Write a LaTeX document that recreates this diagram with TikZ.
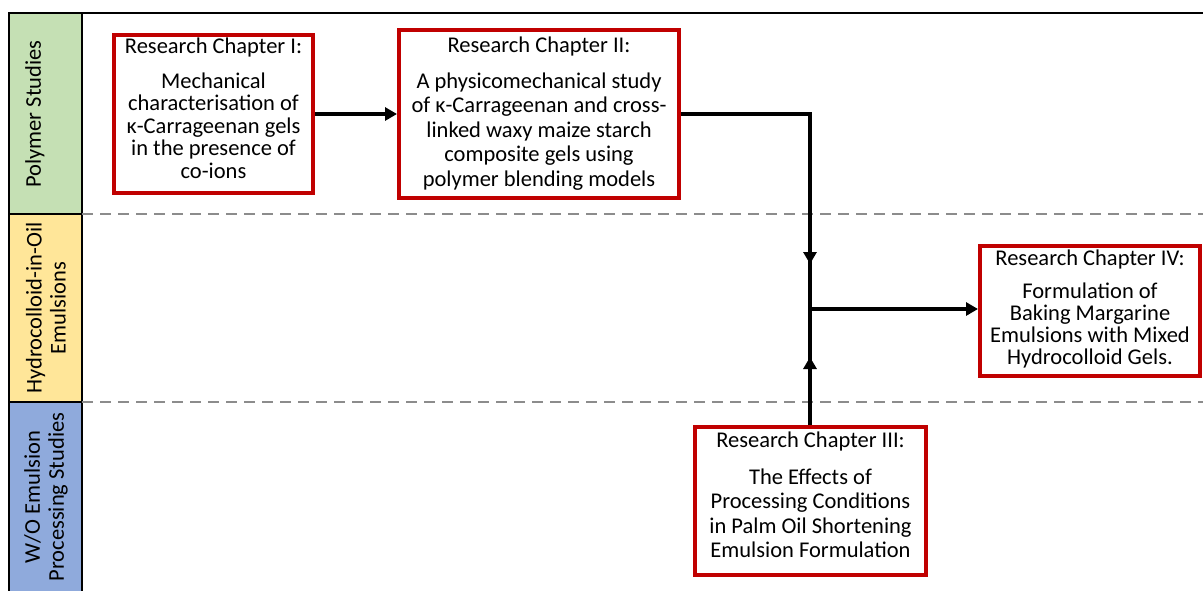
\documentclass[tikz,border=0pt]{standalone}
\usepackage{fontspec}
\setmainfont{Carlito}
\usetikzlibrary{arrows.meta,calc}
\definecolor{chapred}{HTML}{C00000}
\definecolor{polygreen}{HTML}{C5E0B4}
\definecolor{hocyellow}{HTML}{FFE699}
\definecolor{woblue}{HTML}{8FAADC}
\definecolor{dashgray}{HTML}{8C8C8C}
\newcommand{\chaptext}[5]{\parbox[c][#2][t]{#1}{\centering\fontsize{22.5}{#4}\selectfont\rule{0pt}{#3}#5\par}}
\begin{document}
\begin{tikzpicture}[x=1pt,y=-1pt,
  chap/.style={draw=chapred,line width=4pt,fill=white,inner sep=0pt,anchor=north west},
  lanebox/.style={draw=black,line width=2pt},
  lanelabel/.style={rotate=90,align=center,inner sep=0pt,font=\fontsize{22.5}{24}\selectfont},
  flow/.style={line width=3.5pt,-{Triangle[length=12pt,width=13pt]}},
  flowline/.style={line width=3.5pt},
  sep/.style={draw=dashgray,line width=1.5pt,dash pattern=on 11pt off 7pt}]
\useasboundingbox (0,0) rectangle (1203,590);
% lanes
\filldraw[lanebox,fill=polygreen] (9,13) rectangle (82,214);
\filldraw[lanebox,fill=hocyellow] (9,214) rectangle (82,402);
\filldraw[lanebox,fill=woblue] (9,402) rectangle (82,600);
\draw[line width=2.5pt] (9,13) -- (1203,13);
\node[lanelabel] (l1) at (35,114) {Polymer Studies};
\node[lanelabel] (l2) at (46,308) {Hydrocolloid-in-Oil\\Emulsions};
\node[lanelabel] (l3) at (46,497) {W/O Emulsion\\Processing Studies};
% separators
\draw[sep] (82,214) -- (1203,214);
\draw[sep] (82,402) -- (1203,402);
% chapters
\node[chap] (b1) at (112,33) {\chaptext{199pt}{158pt}{18pt}{22.5pt}{Research Chapter I:\\[12.5pt]Mechanical\\characterisation of\\κ-Carrageenan gels\\in the presence of\\co-ions}};
\node[chap] (b2) at (397,28) {\chaptext{280pt}{168pt}{22pt}{24.5pt}{Research Chapter II:\\[11.5pt]A physicomechanical study\\of κ-Carrageenan and cross-\\linked waxy maize starch\\composite gels using\\polymer blending models}};
\node[chap] (b3) at (693,425) {\chaptext{231pt}{148pt}{20pt}{24.5pt}{Research Chapter III:\\[12.5pt]The Effects of\\Processing Conditions\\in Palm Oil Shortening\\Emulsion Formulation}};
\node[chap] (b4) at (978,244) {\chaptext{220pt}{130pt}{19pt}{22.3pt}{Research Chapter IV:\\[10.7pt]Formulation of\\Baking Margarine\\Emulsions with Mixed\\Hydrocolloid Gels.}};
% connectors
\coordinate (ta) at (810,264);
\coordinate (tb) at (810,357);
\coordinate (j) at (810,309);
\draw[flow] (b1.east) -- (b1.east -| b2.west);
\draw[flowline] ($(ta)+(0,-10)$) -- ($(tb)+(0,10)$);
\draw[flow] (b2.east) -| (ta);
\draw[flow] (b3.north -| tb) -- (tb);
\draw[flow] (j) -- (j -| b4.west);
\end{tikzpicture}
\end{document}
